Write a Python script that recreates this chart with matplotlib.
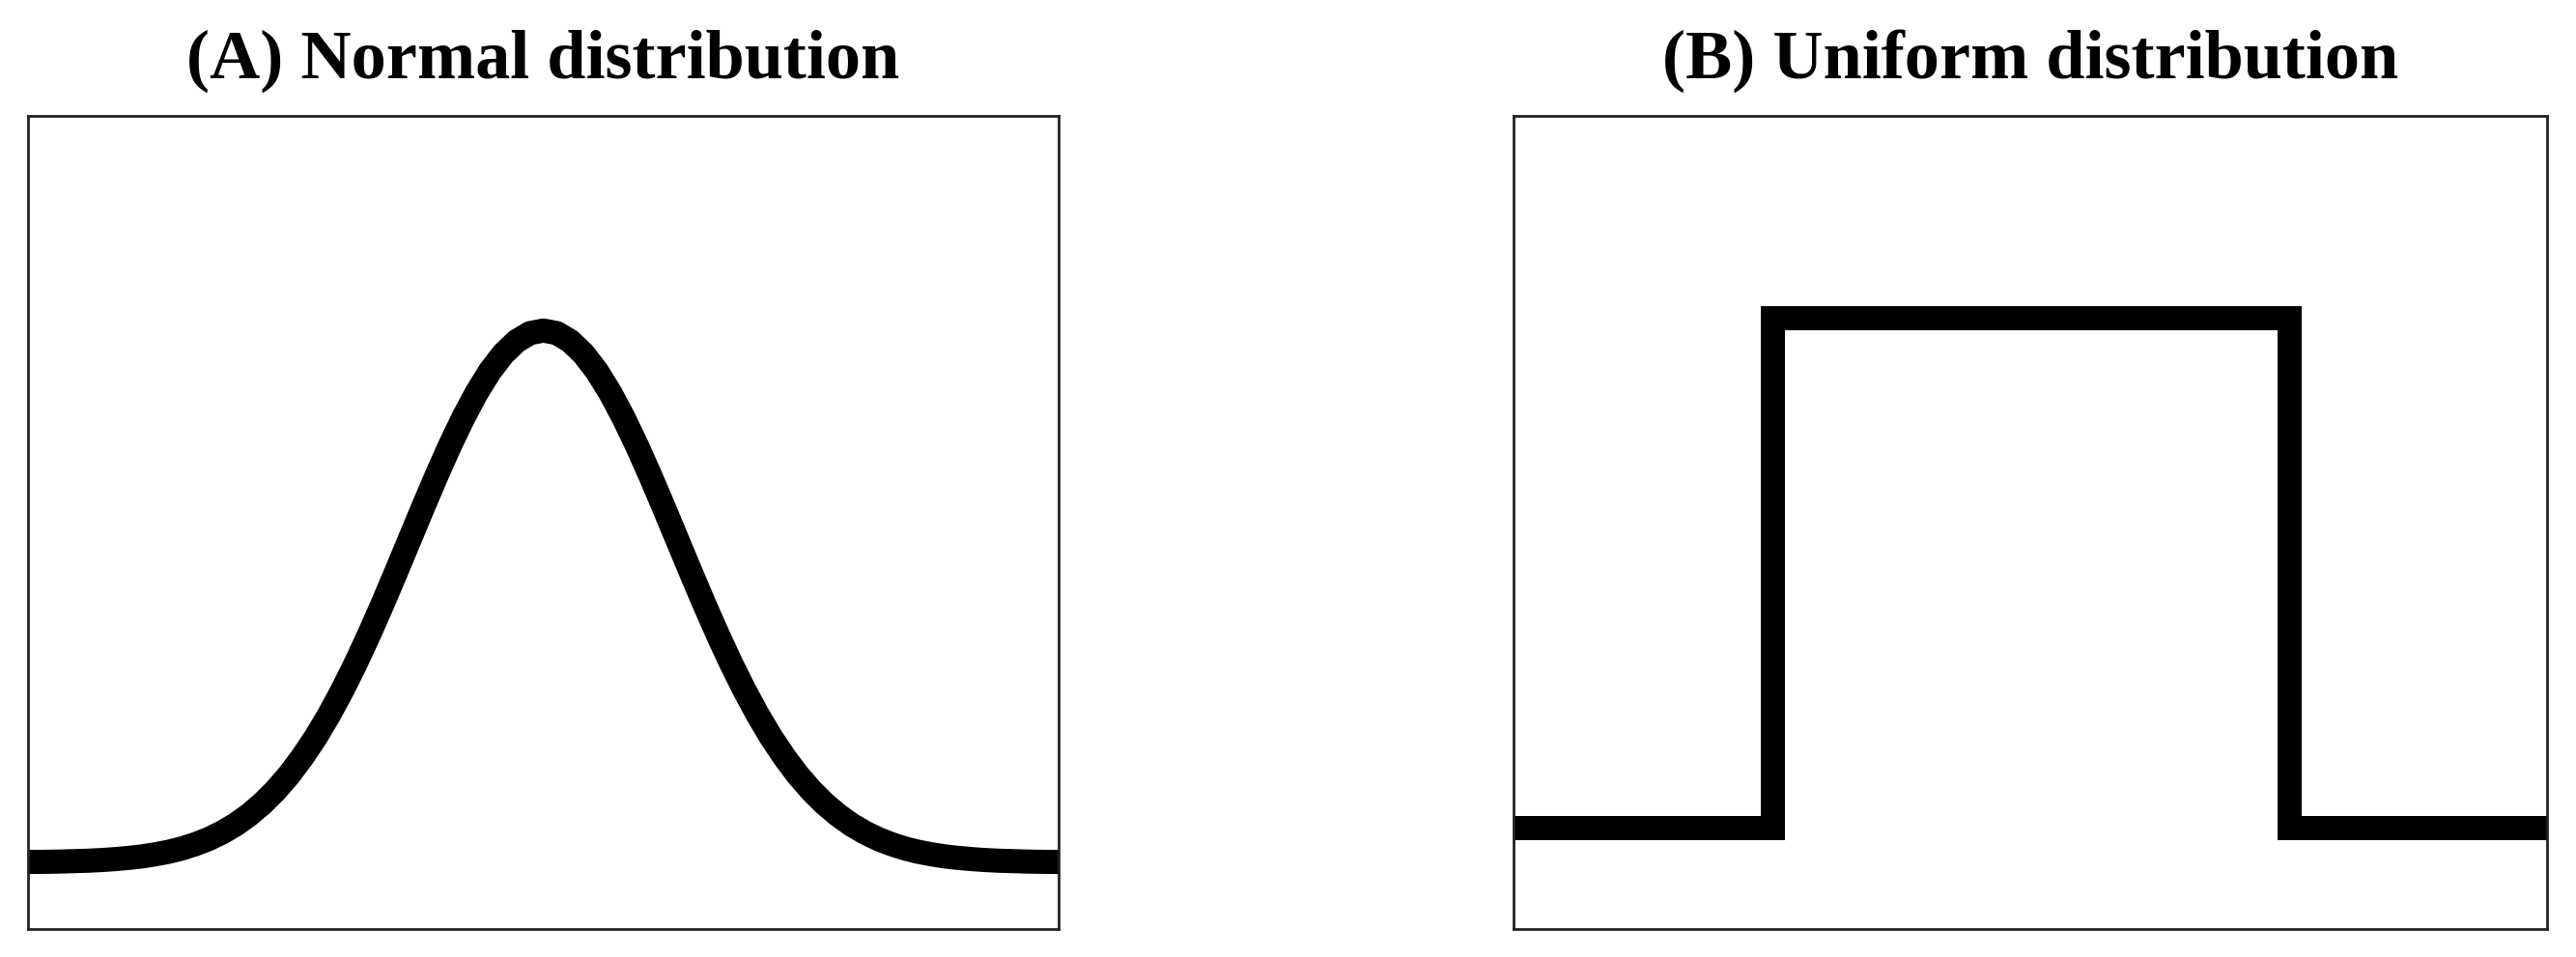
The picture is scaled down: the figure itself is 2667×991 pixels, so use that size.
import matplotlib
matplotlib.use('Agg')
import matplotlib.pyplot as plt
import numpy as np

# Panel A: standard normal density, tabulated at x = 0.0 ... 4.0 (step 0.1)
normal_half = [0.3989, 0.3970, 0.3910, 0.3814, 0.3683, 0.3521, 0.3332, 0.3123,
               0.2897, 0.2661, 0.2420, 0.2179, 0.1942, 0.1714, 0.1497, 0.1295,
               0.1109, 0.0940, 0.0790, 0.0656, 0.0540, 0.0440, 0.0355, 0.0283,
               0.0224, 0.0175, 0.0136, 0.0104, 0.0079, 0.0060, 0.0044, 0.0033,
               0.0024, 0.0017, 0.0012, 0.0009, 0.0006, 0.0004, 0.0003, 0.0002,
               0.0001]
normal_x = np.round(np.arange(-4.0, 4.05, 0.1), 1)
normal_y = normal_half[:0:-1] + normal_half

# Panel B: uniform density on [-1, 1]
uniform_x = [-2.0, -1.0, -1.0, 1.0, 1.0, 2.0]
uniform_y = [0.0, 0.0, 0.5, 0.5, 0.0, 0.0]

titles = ['(A) Normal distribution', '(B) Uniform distribution']

fig = plt.figure(figsize=(26.67, 9.91), dpi=100)
ax1 = fig.add_axes([0.0109, 0.0293, 0.4001, 0.8497])
ax2 = fig.add_axes([0.5876, 0.0293, 0.4012, 0.8497])

ax1.plot(normal_x, normal_y, color='black', lw=18, solid_capstyle='butt')
ax1.set_xlim(-3.85, 3.85)
ax1.set_ylim(-0.050, 0.560)

ax2.plot(uniform_x, uniform_y, color='black', lw=18,
         solid_joinstyle='miter', solid_capstyle='butt')
ax2.set_xlim(-2.0, 2.0)
ax2.set_ylim(-0.0994, 0.698)

for ax, title in zip([ax1, ax2], titles):
    ax.set_xticks([])
    ax.set_yticks([])
    for s in ax.spines.values():
        s.set_linewidth(2.0)
        s.set_color('#222222')
    ax.set_title(title, fontsize=52, fontweight='bold',
                 family=['Liberation Serif', 'DejaVu Serif'], pad=28)

fig.savefig('out.png', dpi=100)
